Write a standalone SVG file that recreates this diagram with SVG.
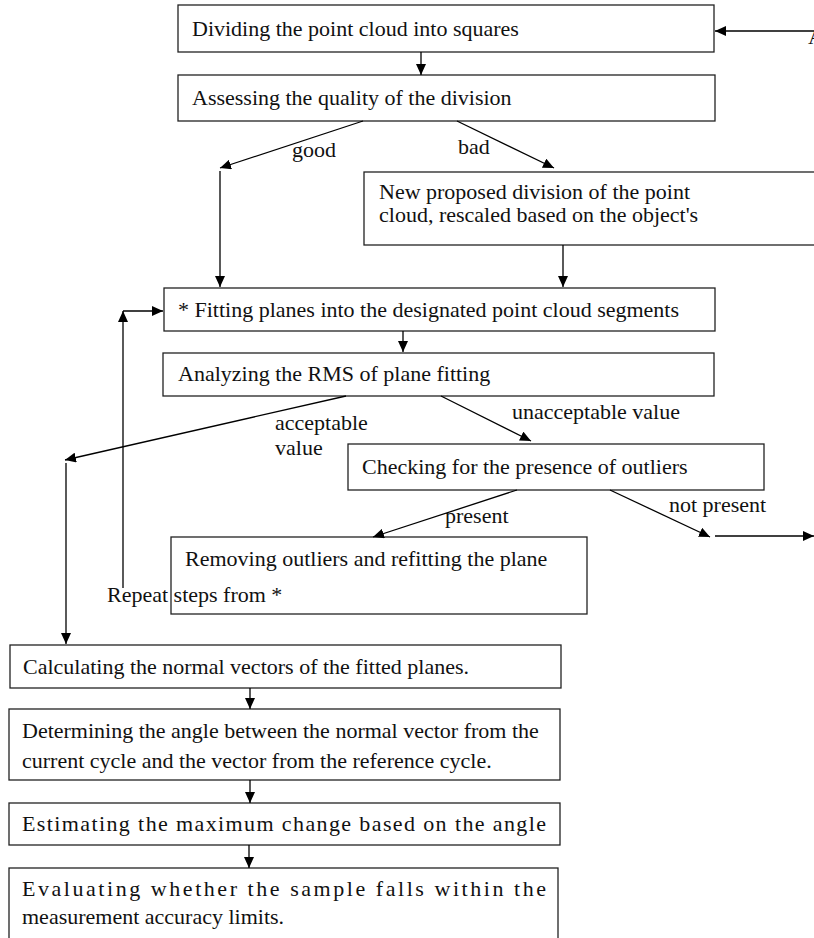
<svg xmlns="http://www.w3.org/2000/svg" width="814" height="938" viewBox="0 0 814 938">
<defs>
<marker id="ah" markerUnits="userSpaceOnUse" markerWidth="12" markerHeight="10" refX="11" refY="5" orient="auto">
<path d="M0,0 L11,5 L0,10 Z" fill="#000"/>
</marker>
<style>
.box{fill:#fff;stroke:#222;stroke-width:1.3}
.t{font-family:"Liberation Serif","Times New Roman",serif;font-size:22px;fill:#111}
.c{stroke:#000;stroke-width:1.3;fill:none;marker-end:url(#ah)}
</style>
</defs>
<rect width="814" height="938" fill="#fff"/>
<g id="n1"><rect class="box" x="178" y="5" width="536" height="47"/><text class="t" x="192" y="36">Dividing the point cloud into squares</text></g>
<g id="n2"><rect class="box" x="178" y="75" width="537" height="46"/><text class="t" x="192" y="105">Assessing the quality of the division</text></g>
<g id="n3"><rect class="box" x="364" y="172" width="480" height="73"/><text class="t" x="379" y="199">New proposed division of the point</text><text class="t" x="379" y="222">cloud, rescaled based on the object's</text></g>
<g id="n4"><rect class="box" x="164" y="288" width="551" height="43"/><text class="t" x="178" y="317">* Fitting planes into the designated point cloud segments</text></g>
<g id="n5"><rect class="box" x="163" y="353" width="551" height="43"/><text class="t" x="178" y="381">Analyzing the RMS of plane fitting</text></g>
<g id="n6"><rect class="box" x="348" y="444" width="416" height="46"/><text class="t" x="362" y="474">Checking for the presence of outliers</text></g>
<g id="n7"><rect class="box" x="171" y="537" width="416" height="77"/><text class="t" x="185" y="566">Removing outliers and refitting the plane</text></g>
<g id="n8"><rect class="box" x="10" y="645" width="551" height="43"/><text class="t" x="23" y="674">Calculating the normal vectors of the fitted planes.</text></g>
<g id="n9"><rect class="box" x="9" y="709" width="551" height="71"/><text class="t" x="22" y="738">Determining the angle between the normal vector from the</text><text class="t" x="22" y="768">current cycle and the vector from the reference cycle.</text></g>
<g id="n10"><rect class="box" x="9" y="803" width="551" height="42"/><text class="t" x="22" y="831" textLength="524" lengthAdjust="spacing">Estimating the maximum change based on the angle</text></g>
<g id="n11"><rect class="box" x="9" y="868" width="549" height="72"/><text class="t" x="22" y="896" textLength="524" lengthAdjust="spacing">Evaluating whether the sample falls within the</text><text class="t" x="22" y="924">measurement accuracy limits.</text></g>
<g id="connectors">
<line class="c" x1="421" y1="52" x2="421" y2="75"/>
<line class="c" x1="814" y1="31" x2="715" y2="31"/>
<line class="c" x1="363" y1="121" x2="220" y2="168"/>
<line class="c" x1="220" y1="171" x2="220" y2="287"/>
<line class="c" x1="457" y1="121" x2="554" y2="168"/>
<line class="c" x1="563" y1="245" x2="563" y2="287"/>
<line class="c" x1="403" y1="331" x2="403" y2="352"/>
<line class="c" x1="346" y1="396" x2="65" y2="460"/>
<line class="c" x1="66" y1="463" x2="66" y2="644"/>
<line class="c" x1="441" y1="396" x2="531" y2="441"/>
<line class="c" x1="517" y1="490" x2="373" y2="537"/>
<line class="c" x1="610" y1="490" x2="710" y2="537"/>
<line class="c" x1="715" y1="536" x2="814" y2="536"/>
<line class="c" x1="123" y1="588" x2="123" y2="311"/>
<line class="c" x1="123" y1="311" x2="163" y2="311"/>
<line class="c" x1="250" y1="688" x2="250" y2="709"/>
<line class="c" x1="250" y1="780" x2="250" y2="803"/>
<line class="c" x1="249" y1="845" x2="249" y2="868"/>
</g>
<g id="labels">
<text class="t" x="292" y="157">good</text>
<text class="t" x="458" y="154">bad</text>
<text class="t" x="275" y="430">acceptable</text>
<text class="t" x="275" y="455">value</text>
<text class="t" x="512" y="419">unacceptable value</text>
<text class="t" x="445" y="523">present</text>
<text class="t" x="669" y="512">not present</text>
<text class="t" x="107" y="602">Repeat steps from *</text>
<text class="t" x="808" y="44" font-size="16">A</text>
</g>
</svg>
